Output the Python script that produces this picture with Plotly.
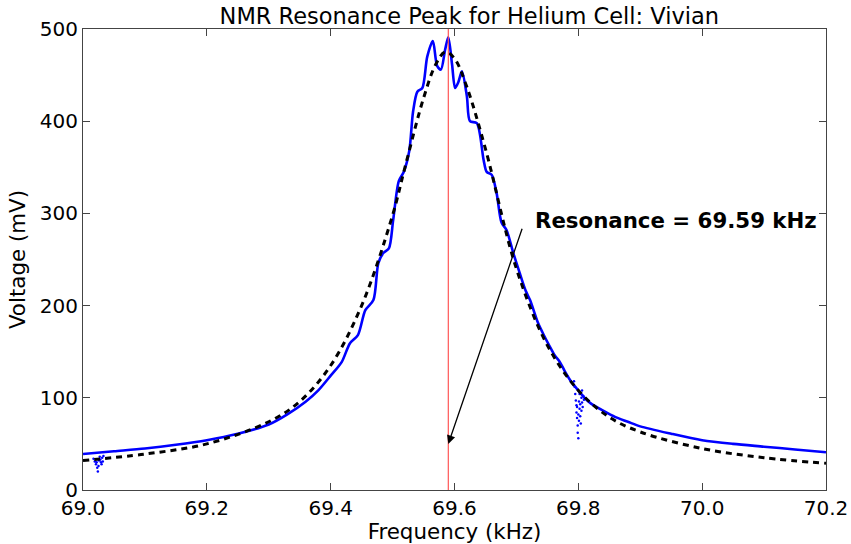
import plotly.graph_objects as go

freq = [69.00, 69.05, 69.10, 69.15, 69.20, 69.25, 69.30, 69.33, 69.36, 69.38, 69.40, 69.418, 69.431,
        69.444, 69.456, 69.469, 69.477, 69.485, 69.494, 69.501, 69.510, 69.518, 69.527, 69.533,
        69.540, 69.548, 69.556, 69.565, 69.572, 69.578, 69.585, 69.59, 69.596, 69.601, 69.606,
        69.612, 69.620, 69.625, 69.636, 69.647, 69.652, 69.660, 69.668, 69.676, 69.684, 69.695,
        69.705, 69.715, 69.722, 69.735, 69.745, 69.752, 69.762, 69.770, 69.778, 69.788,
        69.80, 69.81, 69.82, 69.84, 69.86, 69.88, 69.90, 69.95, 70.00, 70.05, 70.10, 70.15, 70.20]
volt = [39, 42, 45, 49, 54, 61, 71, 82, 96, 108, 124, 139, 159,
        168, 195, 206, 246, 257, 262, 293, 335, 345, 368, 410,
        432, 436, 470, 487, 460, 456, 478, 491, 462, 436, 442,
        454, 427, 400, 398, 358, 345, 342, 322, 290, 282, 257,
        236, 216, 206, 181, 167, 158, 146, 139, 129, 118,
        108, 100, 94, 86, 79, 74, 69, 61, 54, 50, 47, 44, 41]

# Noise dips (scattered points)
noise_f = [69.017, 69.019, 69.021, 69.022, 69.023, 69.024, 69.025, 69.026, 69.027, 69.028, 69.029,
           69.030, 69.031, 69.032, 69.033,
           69.793, 69.794, 69.795, 69.796, 69.797, 69.797, 69.798, 69.798, 69.799, 69.799, 69.800,
           69.800, 69.801, 69.801, 69.802, 69.802, 69.803, 69.803, 69.804, 69.805, 69.805, 69.806,
           69.806, 69.807, 69.808, 69.809]
noise_v = [34, 31, 28, 30, 24, 20, 26, 32, 36, 33, 30,
           28, 35, 31, 37,
           118, 112, 104, 97, 92, 84, 78, 90, 70, 62, 56,
           82, 75, 96, 88, 104, 80, 93, 72, 86, 100, 95,
           108, 90, 102, 98]

# Lorentzian fit
fit_f = [69.00, 69.10, 69.20, 69.30, 69.35, 69.40, 69.45, 69.50, 69.52, 69.55, 69.57, 69.585,
         69.60, 69.62, 69.65, 69.70, 69.75, 69.80, 69.85, 69.90, 70.00, 70.10, 70.20]
fit_v = [32, 39, 50, 74, 96, 135, 200, 298, 350, 425, 462, 475,
         468, 437, 370, 240, 157, 108, 79, 63, 45, 35, 29]

resonance = 69.59

fig = go.Figure()
fig.add_trace(go.Scatter(x=noise_f, y=noise_v, mode="markers",
                         marker=dict(color="blue", size=2.5), showlegend=False))
fig.add_trace(go.Scatter(x=freq, y=volt, mode="lines",
                         line=dict(color="blue", width=2.6, shape="spline", smoothing=0.8),
                         showlegend=False))
fig.add_trace(go.Scatter(x=fit_f, y=fit_v, mode="lines",
                         line=dict(color="black", width=3, dash="6px,5px", shape="spline"),
                         showlegend=False))
fig.add_trace(go.Scatter(x=[resonance, resonance], y=[0, 500], mode="lines",
                         line=dict(color="#ff5555", width=1.2), showlegend=False))

fig.add_annotation(x=resonance, y=50, ax=69.71, ay=285, xref="x", yref="y", axref="x", ayref="y",
                   showarrow=True, arrowhead=2, arrowsize=1.3, arrowwidth=1.3, arrowcolor="black", text="")
fig.add_annotation(x=69.727, y=292, xref="x", yref="y", text="<b>Resonance = 69.59 kHz</b>",
                   showarrow=False, xanchor="left", yanchor="middle",
                   font=dict(size=21.3, color="black", family="DejaVu Sans"))

axis_common = dict(showgrid=False, zeroline=False, ticks="inside", ticklen=7, tickcolor="#444",
                   mirror="allticks", showline=True, linecolor="#444", linewidth=1.2, automargin=False,
                   tickfont=dict(size=20, color="black", family="DejaVu Sans"))
fig.update_xaxes(range=[69.0, 70.2], tickvals=[69.0, 69.2, 69.4, 69.6, 69.8, 70.0, 70.2],
                 ticktext=["69.0", "69.2", "69.4", "69.6", "69.8", "70.0", "70.2"],
                 title=dict(text="Frequency (kHz)", font=dict(size=21.4, family="DejaVu Sans", color="black"), standoff=2),
                 **axis_common)
fig.update_yaxes(range=[0, 500], tickvals=[0, 100, 200, 300, 400, 500],
                 title=dict(text="Voltage (mV)", font=dict(size=21.4, family="DejaVu Sans", color="black"), standoff=8),
                 **axis_common)

fig.update_layout(
    width=851, height=544,
    margin=dict(l=83, r=25, t=29, b=54),
    plot_bgcolor="white", paper_bgcolor="white",
    title=dict(text="NMR Resonance Peak for Helium Cell: Vivian", x=0.5515, xanchor="center", y=0.97, yanchor="middle",
               font=dict(size=22.5, family="DejaVu Sans", color="black")),
    font=dict(family="DejaVu Sans"),
)

fig.write_html("out.html")
